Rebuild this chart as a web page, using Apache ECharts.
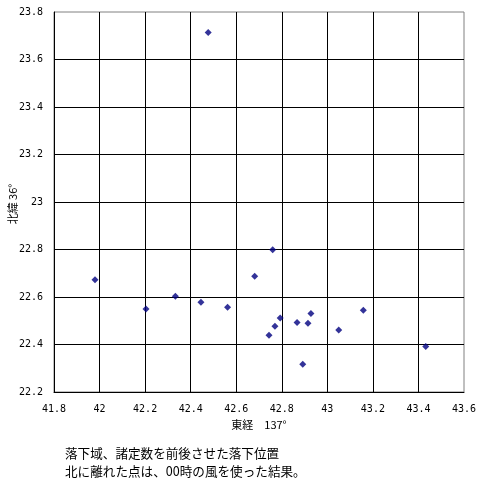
<!DOCTYPE html>
<html>
<head>
<meta charset="utf-8">
<script src="https://cdn.jsdelivr.net/npm/echarts@6/dist/echarts.min.js"></script>
<style>html,body{margin:0;padding:0;background:#fff;}#c{width:484px;height:486px;}</style>
</head>
<body>
<div id="c"></div>
<script>
const lonValues = [41.98, 42.204, 42.333, 42.445, 42.562, 42.681, 42.760, 42.477, 42.744, 42.770, 42.793, 42.867, 42.915, 42.928, 42.892, 43.050, 43.158, 43.432];
const latValues = [22.673, 22.549, 22.603, 22.578, 22.557, 22.687, 22.799, 23.714, 22.439, 22.477, 22.512, 22.493, 22.489, 22.531, 22.317, 22.461, 22.544, 22.392];
const xAxisTitle = '東経　137°';
const yAxisTitle = '北緯 36°';
const captionLines = ['落下域、諸定数を前後させた落下位置', '北に離れた点は、00時の風を使った結果。'];

const points = lonValues.map((x, i) => [x, latValues[i]]);
const chart = echarts.init(document.getElementById('c'), null, {renderer: 'canvas'});
const monoFont = 'DejaVu Sans Mono';
const jpFont = 'Noto Sans CJK JP';
const graphics = captionLines.map((t, i) => ({
  type: 'text', left: 65, top: 447 + i * 18,
  style: {text: t, font: '12.6px "Noto Sans CJK JP"', fill: '#000'}
}));
graphics.push({
  type: 'text', x: 13, y: 204, rotation: Math.PI / 2,
  style: {text: yAxisTitle, font: '11px "Noto Sans CJK JP"', fill: '#000', align: 'center', verticalAlign: 'middle'}
});
chart.setOption({
  animation: false,
  backgroundColor: '#fff',
  grid: {left: 54, right: 20, top: 12, bottom: 94, containLabel: false, outerBoundsMode: 'none',
    show: true, borderColor: '#808080', borderWidth: 1, backgroundColor: 'transparent'},
  xAxis: {
    type: 'value', min: 41.8, max: 43.6, interval: 0.2,
    name: xAxisTitle, nameLocation: 'middle', nameGap: 25,
    nameTextStyle: {fontFamily: jpFont, fontSize: 11, color: '#000'},
    axisLine: {show: true, lineStyle: {color: '#000', width: 1}},
    axisTick: {show: false},
    axisLabel: {fontFamily: monoFont, fontSize: 10, color: '#000', margin: 12,
      formatter: v => String(Math.round(v * 10) / 10)},
    splitLine: {show: true, showMinLine: false, showMaxLine: false, lineStyle: {color: '#000', width: 1}}
  },
  yAxis: {
    type: 'value', min: 22.2, max: 23.8, interval: 0.2,
    axisLine: {show: true, lineStyle: {color: '#000', width: 1}},
    axisTick: {show: false},
    axisLabel: {fontFamily: monoFont, fontSize: 10, color: '#000', margin: 11,
      formatter: v => String(Math.round(v * 10) / 10)},
    splitLine: {show: true, showMinLine: false, showMaxLine: false, lineStyle: {color: '#000', width: 1}}
  },
  series: [{
    type: 'scatter',
    data: points,
    symbol: 'diamond',
    symbolSize: 7,
    itemStyle: {color: '#000080'}
  }],
  graphic: graphics
});
</script>
</body>
</html>
